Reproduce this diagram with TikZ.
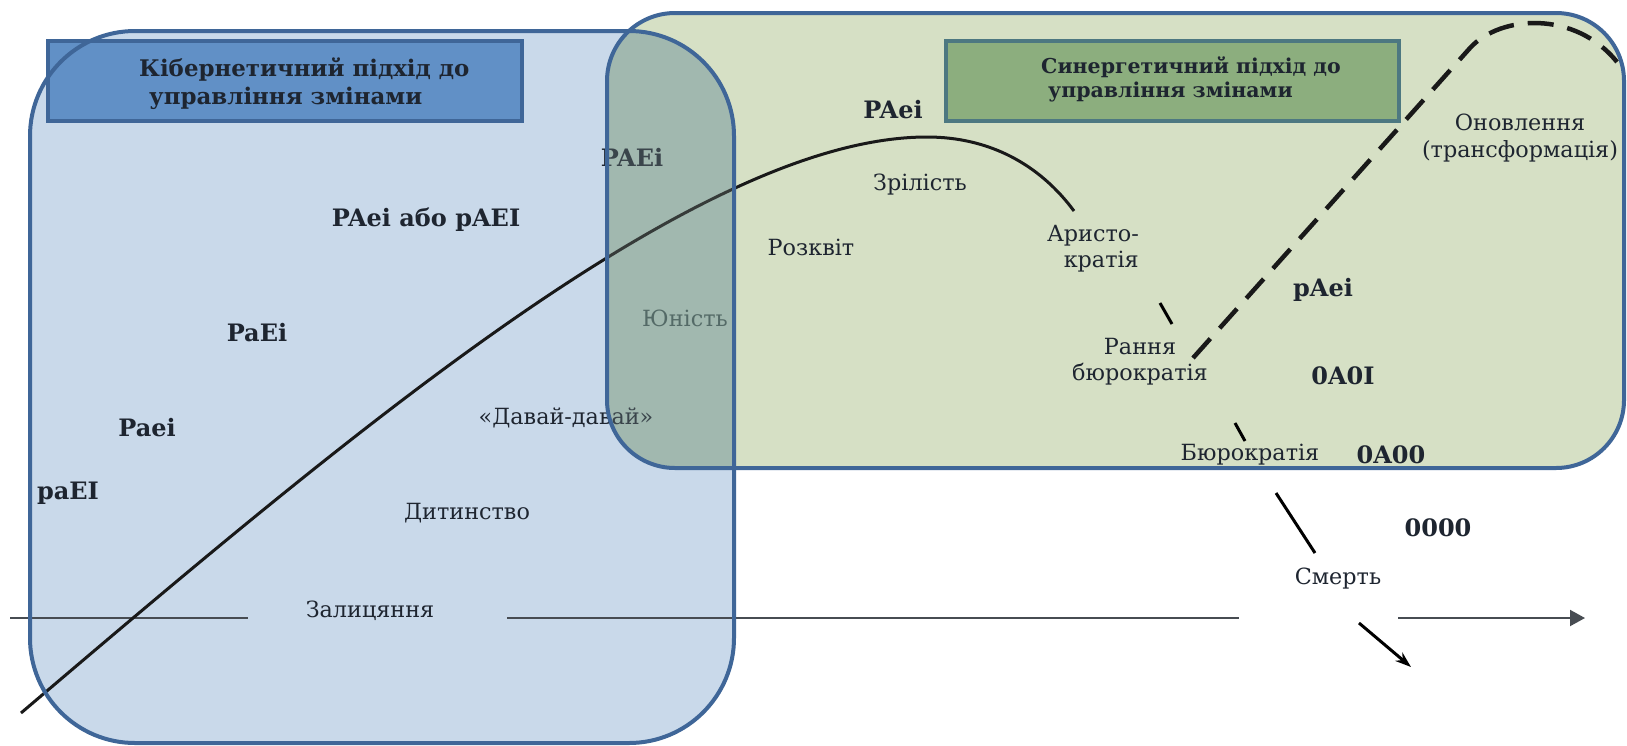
\documentclass[tikz,border=0pt]{standalone}
\usepackage{fontspec}
\setmainfont{DejaVu Serif}
\usetikzlibrary{arrows.meta}
\definecolor{bluefill}{HTML}{C9D9EA}
\definecolor{greenfill}{HTML}{D6E0C5}
\definecolor{overlapfill}{HTML}{A1B8AF}
\definecolor{borderblue}{HTML}{3F6698}
\definecolor{titleblue}{HTML}{6190C6}
\definecolor{titlegreen}{HTML}{8CAE7E}
\definecolor{titlegreenborder}{HTML}{4D7881}
\definecolor{txt}{HTML}{1E2530}
\definecolor{youthgray}{HTML}{3F5553}
\definecolor{axisgray}{HTML}{474C52}
\begin{document}
\begin{tikzpicture}[x=1pt,y=-1pt,
  lbl/.style={inner sep=0pt, text=txt, font=\fontsize{22.3}{26}\selectfont},
  blbl/.style={inner sep=0pt, text=txt, font=\bfseries\fontsize{24}{28}\selectfont},
  titletxt/.style={inner sep=0pt, text=txt, align=left, font=\bfseries\fontsize{22.9}{28}\selectfont},
  regionborder/.style={draw=borderblue, line width=4pt},
  axisline/.style={draw=axisgray, line width=2pt},
  lifecurve/.style={draw=black!90, line width=3pt},
  deathline/.style={draw=black, line width=3pt},
  renewal/.style={draw=black!90, line width=4.5pt, dash pattern=on 26pt off 14pt},
]
\useasboundingbox (0,0) rectangle (1627,745);
\fill[white] (0,0) rectangle (1627,745);
% region fills
\fill[bluefill, rounded corners=105pt] (30,31) rectangle (734,743);
\fill[greenfill, rounded corners=68pt] (607,13) rectangle (1624,468);
\begin{scope}
  \clip[rounded corners=105pt] (30,31) rectangle (734,743);
  \fill[overlapfill, rounded corners=68pt] (607,13) rectangle (1624,468);
\end{scope}
% time axis
\coordinate (ax0) at (10,618);
\coordinate (ax1) at (248,618);
\coordinate (ax2) at (507,618);
\coordinate (ax3) at (1239,618);
\coordinate (ax4) at (1398,618);
\coordinate (ax5) at (1585,618);
\draw[axisline] (ax0) -- (ax1);
\draw[axisline] (ax2) -- (ax3);
\draw[axisline, -{Triangle[length=15pt,width=16pt]}] (ax4) -- (ax5);
% life-cycle curve
\coordinate (lc0) at (21,713);
\coordinate (lcpeak) at (927,137);
\coordinate (lcend) at (1074,211);
\draw[lifecurve] (lc0) .. controls (350,433) and (700,137) .. (lcpeak)
  .. controls (990,137) and (1040,165) .. (lcend);
% labels in the cybernetic region
\node[blbl] (paEI) at (68,493) {paEI};
\node[blbl] (Paei) at (147,428) {Paei};
\node[blbl] (PaEi) at (257,333) {PaEi};
\node[blbl] (PAeipAEI) at (426,220) {PAei або pAEI};
\node[blbl] (PAEi) at (632,157) {PAEi};
\node[lbl] (davai) at (566,418) {«Давай-давай»};
\node[lbl] (dytynstvo) at (467,513) {Дитинство};
\node[lbl] (zalyts) at (370,611) {Залицяння};
\node[lbl, text=youthgray] (yunist) at (685,318) {Юність};
% veil over the overlap
\begin{scope}
  \clip[rounded corners=105pt] (30,31) rectangle (734,743);
  \fill[overlapfill, opacity=0.22, rounded corners=68pt] (607,13) rectangle (1624,468);
\end{scope}
% title boxes
\node[draw=borderblue, fill=titleblue, line width=4pt, minimum width=474pt, minimum height=80pt, inner sep=0pt] (cybbox) at (285,81) {};
\node[titletxt, anchor=west] (cybtext) at (139,84) {Кібернетичний підхід до\\\hspace{10pt}управління змінами};
\node[draw=titlegreenborder, fill=titlegreen, line width=4pt, minimum width=453pt, minimum height=80pt, inner sep=0pt] (synbox) at (1172.5,81) {};
\node[titletxt, anchor=west, font=\bfseries\fontsize{20.5}{24}\selectfont] (syntext) at (1041,79) {Синергетичний підхід до\\\hspace{7pt}управління змінами};
% region borders
\draw[regionborder, rounded corners=105pt] (30,31) rectangle (734,743);
\draw[regionborder, rounded corners=68pt] (607,13) rectangle (1624,468);
% labels in the synergetic region
\node[blbl] (PAei) at (893,110) {PAei};
\node[lbl] (zrilist) at (920,185) {Зрілість};
\node[lbl] (rozkvit) at (811,247) {Розквіт};
\node[lbl, align=right, anchor=east] (aristo) at (1139,249) {Аристо-\\кратія};
\node[blbl] (pAei) at (1323,290) {pAei};
\node[lbl, align=center] (rannia) at (1140,362) {Рання\\бюрократія};
\node[blbl] (OAOI) at (1343,376) {0A0I};
\node[lbl, align=center, font=\fontsize{22.3}{27}\selectfont] (onovl) at (1520,138) {Оновлення\\(трансформація)};
\node[lbl] (biurokr) at (1250,455) {Бюрократія};
\node[blbl] (OAOO) at (1391,455) {0A00};
\node[blbl] (OOOO) at (1438,528) {0000};
\node[lbl] (smert) at (1338,579) {Смерть};
% renewal (dashed)
\coordinate (rn0) at (1193,358);
\coordinate (rn1) at (1470,48);
\coordinate (rn2) at (1617,62);
\draw[renewal] (rn0) -- (rn1) .. controls (1500,15) and (1575,10) .. (rn2);
% decline towards death
\coordinate (d1a) at (1160,303); \coordinate (d1b) at (1172,324);
\coordinate (d2a) at (1235,423); \coordinate (d2b) at (1245,441);
\coordinate (d3a) at (1276,493); \coordinate (d3b) at (1315,553);
\coordinate (d4a) at (1359,623); \coordinate (d4b) at (1411,667);
\draw[deathline] (d1a) -- (d1b);
\draw[deathline] (d2a) -- (d2b);
\draw[deathline] (d3a) -- (d3b);
\draw[deathline, -{Stealth[length=16pt,width=11pt]}] (d4a) -- (d4b);
\end{tikzpicture}
\end{document}
